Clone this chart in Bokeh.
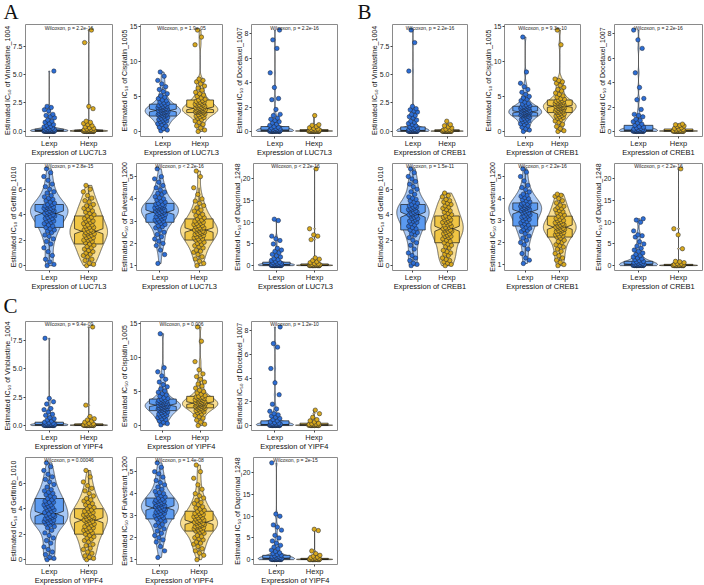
import numpy as np
from bokeh.core.properties import value
from bokeh.embed import file_html
from bokeh.layouts import column, row
from bokeh.models import FixedTicker, Label, Range1d, Spacer
from bokeh.plotting import figure
from bokeh.resources import INLINE

# ---------------------------------------------------------------- labels
groups = ["Lexp", "Hexp"]
genes = ["LUC7L3", "CREB1", "YIPF4"]
drugs = ["Vinblastine_1004", "Cisplatin_1005", "Docetaxel_1007",
         "Gefitinib_1010", "Fulvestrant_1200", "Daporinad_1248"]

vin_ticks = [0, 2.5, 5, 7.5]
vin_tick_labels = ["0.0", "2.5", "5.0", "7.5"]
cis_ticks = [0, 5, 10, 15]
cis_tick_labels = ["0", "5", "10", "15"]
doc_ticks = [0, 2, 4, 6, 8]
doc_tick_labels = ["0", "2", "4", "6", "8"]
gef_ticks = [0, 2, 4, 6]
gef_tick_labels = ["0", "2", "4", "6"]
ful_ticks = [1, 2, 3, 4, 5]
ful_tick_labels = ["1", "2", "3", "4", "5"]
dap_ticks = [0, 5, 10, 15, 20]
dap_tick_labels = ["0", "5", "10", "15", "20"]

p_luc7l3 = ["Wilcoxon, p = 2.2e-16", "Wilcoxon, p = 1.9e-05", "Wilcoxon, p = 2.2e-16",
            "Wilcoxon, p = 2.8e-15", "Wilcoxon, p < 2.2e-16", "Wilcoxon, p < 2.2e-16"]
p_creb1 = ["Wilcoxon, p = 2.2e-16", "Wilcoxon, p = 9.3e-10", "Wilcoxon, p = 2.2e-16",
           "Wilcoxon, p = 1.5e-11", "Wilcoxon, p < 2.2e-16", "Wilcoxon, p < 2.2e-16"]
p_yipf4 = ["Wilcoxon, p = 9.4e-09", "Wilcoxon, p = 0.006", "Wilcoxon, p = 1.2e-10",
           "Wilcoxon, p = 0.00046", "Wilcoxon, p = 1.4e-08", "Wilcoxon, p = 2e-15"]

# ---------------------------------------------------------------- LUC7L3 split: estimated IC50 per cell line
luc_vin_l = [0.0, 0.0, 0.01, 0.01, 0.01, 0.02, 0.02, 0.02, 0.03, 0.03, 0.03, 0.03, 0.04, 0.04, 0.04, 0.05,
             0.05, 0.05, 0.05, 0.06, 0.06, 0.06, 0.07, 0.07, 0.08, 0.08, 0.09, 0.09, 0.1, 0.11, 0.12, 0.13,
             0.14, 0.15, 0.17, 0.19, 0.22, 0.26, 0.3, 0.35, 0.4, 0.45, 0.55, 0.6, 0.7, 0.8, 0.9, 1.0,
             1.2, 1.3, 1.4, 1.5, 1.8, 1.9, 2.1, 2.2, 5.3]
luc_vin_h = [0.0, 0.0, 0.0, 0.01, 0.01, 0.01, 0.01, 0.02, 0.02, 0.02, 0.02, 0.03, 0.03, 0.03, 0.03, 0.04,
             0.04, 0.04, 0.05, 0.05, 0.05, 0.06, 0.06, 0.07, 0.07, 0.08, 0.08, 0.09, 0.1, 0.11, 0.12, 0.14,
             0.16, 0.18, 0.22, 0.28, 0.33, 0.4, 0.5, 0.6, 0.7, 0.8, 0.9, 2.0, 2.2, 7.8, 8.9]
luc_cis_l = [0.1, 0.2, 0.4, 0.6, 0.8, 1.0, 1.1, 1.3, 1.4, 1.5, 1.6, 1.7, 1.8, 1.9, 2.0, 2.1,
             2.2, 2.3, 2.3, 2.4, 2.4, 2.5, 2.5, 2.6, 2.6, 2.7, 2.7, 2.8, 2.8, 2.9, 2.9, 3.0,
             3.0, 3.1, 3.1, 3.2, 3.2, 3.3, 3.3, 3.4, 3.4, 3.5, 3.5, 3.6, 3.6, 3.7, 3.8, 3.9,
             4.0, 4.1, 4.2, 4.4, 4.5, 4.7, 4.9, 5.1, 5.4, 5.7, 6.0, 6.4, 6.8, 7.3, 7.9, 8.5]
luc_cis_h = [0.0, 0.2, 0.5, 0.8, 1.0, 1.3, 1.5, 1.7, 1.9, 2.0, 2.1, 2.2, 2.3, 2.4, 2.5, 2.6,
             2.7, 2.7, 2.8, 2.8, 2.9, 2.9, 2.9, 3.0, 3.0, 3.0, 3.1, 3.1, 3.2, 3.2, 3.3, 3.3,
             3.4, 3.4, 3.5, 3.6, 3.6, 3.7, 3.8, 3.8, 3.9, 4.0, 4.1, 4.2, 4.2, 4.3, 4.4, 4.5,
             4.6, 4.8, 5.0, 5.2, 5.4, 5.6, 5.9, 6.2, 6.5, 6.8, 7.1, 7.3, 7.5, 12.4, 13.5, 14.5]
luc_doc_l = [0.0, 0.0, 0.01, 0.01, 0.01, 0.02, 0.02, 0.02, 0.03, 0.03, 0.03, 0.04, 0.04, 0.04, 0.05, 0.05,
             0.05, 0.06, 0.06, 0.06, 0.07, 0.07, 0.08, 0.08, 0.09, 0.09, 0.1, 0.1, 0.11, 0.12, 0.13, 0.14,
             0.15, 0.17, 0.19, 0.22, 0.25, 0.3, 0.35, 0.4, 0.5, 0.6, 0.7, 0.8, 0.9, 1.0, 1.1, 1.3,
             1.4, 1.8, 2.6, 2.7, 3.6, 4.8, 6.8, 7.5, 8.3]
luc_doc_h = [0.0, 0.0, 0.0, 0.01, 0.01, 0.01, 0.02, 0.02, 0.02, 0.02, 0.03, 0.03, 0.03, 0.04, 0.04, 0.04,
             0.05, 0.05, 0.05, 0.06, 0.06, 0.07, 0.07, 0.08, 0.09, 0.1, 0.11, 0.12, 0.14, 0.16, 0.2, 0.25,
             0.3, 0.4, 0.5, 0.55, 1.3]
luc_gef_l = [0.0, 0.1, 0.3, 0.5, 0.8, 1.1, 1.4, 1.7, 1.9, 2.1, 2.3, 2.4, 2.6, 2.7, 2.8, 2.9,
             3.0, 3.1, 3.2, 3.3, 3.4, 3.5, 3.5, 3.6, 3.7, 3.7, 3.8, 3.9, 3.9, 4.0, 4.0, 4.1,
             4.1, 4.2, 4.2, 4.3, 4.3, 4.4, 4.4, 4.5, 4.5, 4.5, 4.6, 4.6, 4.7, 4.7, 4.8, 4.8,
             4.9, 5.0, 5.1, 5.2, 5.3, 5.4, 5.5, 5.7, 5.8, 6.0, 6.2, 6.4, 6.7, 7.0, 7.3, 7.6]
luc_gef_h = [0.0, 0.1, 0.2, 0.4, 0.5, 0.7, 0.8, 0.9, 1.0, 1.1, 1.2, 1.3, 1.4, 1.5, 1.6, 1.7,
             1.8, 1.9, 2.0, 2.0, 2.1, 2.2, 2.2, 2.3, 2.4, 2.4, 2.5, 2.5, 2.6, 2.6, 2.7, 2.7,
             2.8, 2.8, 2.9, 3.0, 3.0, 3.1, 3.2, 3.2, 3.3, 3.4, 3.5, 3.5, 3.6, 3.7, 3.8, 3.9,
             4.0, 4.1, 4.2, 4.3, 4.4, 4.5, 4.6, 4.7, 4.8, 5.0, 5.1, 5.3, 5.5, 5.8, 6.0, 6.3]
luc_ful_l = [1.1, 1.5, 1.7, 1.9, 2.0, 2.1, 2.2, 2.3, 2.4, 2.5, 2.6, 2.7, 2.75, 2.8, 2.85, 2.9,
             2.95, 3.0, 3.0, 3.05, 3.1, 3.1, 3.15, 3.2, 3.2, 3.25, 3.3, 3.3, 3.35, 3.35, 3.4, 3.4,
             3.45, 3.45, 3.5, 3.5, 3.55, 3.55, 3.6, 3.6, 3.6, 3.65, 3.65, 3.7, 3.7, 3.75, 3.75, 3.8,
             3.85, 3.9, 3.95, 4.0, 4.05, 4.1, 4.2, 4.25, 4.3, 4.4, 4.5, 4.6, 4.75, 4.9, 5.0, 5.35]
luc_ful_h = [1.0, 1.1, 1.2, 1.3, 1.4, 1.5, 1.6, 1.65, 1.7, 1.8, 1.85, 1.9, 1.95, 2.0, 2.05, 2.1,
             2.15, 2.2, 2.2, 2.25, 2.3, 2.3, 2.35, 2.4, 2.4, 2.45, 2.45, 2.5, 2.5, 2.55, 2.55, 2.6,
             2.6, 2.65, 2.65, 2.7, 2.7, 2.75, 2.8, 2.8, 2.85, 2.9, 2.9, 2.95, 3.0, 3.0, 3.05, 3.1,
             3.15, 3.2, 3.25, 3.3, 3.4, 3.45, 3.5, 3.6, 3.7, 3.8, 3.9, 4.0, 4.2, 4.5, 5.0, 5.25]
luc_dap_l = [0.0, 0.01, 0.02, 0.03, 0.04, 0.05, 0.05, 0.06, 0.07, 0.08, 0.08, 0.09, 0.1, 0.1, 0.11, 0.12,
             0.12, 0.13, 0.14, 0.15, 0.15, 0.16, 0.17, 0.18, 0.19, 0.2, 0.21, 0.22, 0.23, 0.24, 0.25, 0.27,
             0.3, 0.35, 0.4, 0.5, 0.6, 0.7, 0.8, 1.0, 1.2, 1.4, 1.6, 2.0, 2.3, 2.6, 3.0, 3.3,
             3.6, 4.0, 5.0, 5.8, 6.2, 6.8, 10.4, 10.7]
luc_dap_h = [0.0, 0.0, 0.01, 0.01, 0.02, 0.02, 0.03, 0.03, 0.04, 0.04, 0.05, 0.05, 0.06, 0.06, 0.07, 0.08,
             0.08, 0.09, 0.1, 0.1, 0.11, 0.12, 0.13, 0.14, 0.15, 0.17, 0.19, 0.22, 0.25, 0.3, 0.4, 0.5,
             0.7, 0.9, 1.2, 1.5, 1.8, 6.0, 6.8, 7.1, 8.5, 22.3]

# ---------------------------------------------------------------- CREB1 split
creb_vin_l = [0.0, 0.0, 0.01, 0.01, 0.01, 0.02, 0.02, 0.02, 0.03, 0.03, 0.03, 0.04, 0.04, 0.04, 0.05, 0.05,
              0.05, 0.06, 0.06, 0.06, 0.07, 0.07, 0.08, 0.08, 0.09, 0.09, 0.1, 0.11, 0.12, 0.13, 0.14, 0.16,
              0.18, 0.2, 0.25, 0.3, 0.35, 0.4, 0.5, 0.6, 0.7, 0.8, 0.9, 1.0, 1.2, 1.3, 1.4, 1.5,
              1.7, 1.8, 1.9, 2.0, 2.2, 5.3, 7.8, 8.9]
creb_vin_h = [0.0, 0.0, 0.0, 0.01, 0.01, 0.01, 0.01, 0.02, 0.02, 0.02, 0.03, 0.03, 0.03, 0.04, 0.04, 0.05,
              0.05, 0.06, 0.06, 0.07, 0.08, 0.09, 0.1, 0.12, 0.14, 0.17, 0.2, 0.3, 0.4, 0.5, 0.6, 0.9]
creb_cis_l = [0.0, 0.2, 0.4, 0.6, 0.8, 1.0, 1.1, 1.3, 1.4, 1.5, 1.6, 1.7, 1.8, 1.9, 2.0, 2.1,
              2.2, 2.2, 2.3, 2.3, 2.4, 2.4, 2.5, 2.5, 2.5, 2.6, 2.6, 2.7, 2.7, 2.7, 2.8, 2.8,
              2.9, 2.9, 3.0, 3.0, 3.1, 3.1, 3.2, 3.2, 3.3, 3.3, 3.4, 3.4, 3.5, 3.5, 3.6, 3.6,
              3.7, 3.8, 3.9, 4.0, 4.2, 4.4, 4.6, 4.8, 5.0, 5.3, 5.6, 6.0, 6.4, 6.9, 8.5, 13.5]
creb_cis_h = [0.0, 0.1, 0.4, 0.7, 1.0, 1.3, 1.5, 1.7, 1.9, 2.0, 2.1, 2.2, 2.3, 2.4, 2.5, 2.6,
              2.7, 2.8, 2.8, 2.9, 3.0, 3.0, 3.1, 3.2, 3.2, 3.3, 3.3, 3.4, 3.4, 3.5, 3.5, 3.6,
              3.6, 3.7, 3.7, 3.8, 3.8, 3.9, 3.9, 4.0, 4.0, 4.1, 4.1, 4.2, 4.3, 4.3, 4.4, 4.5,
              4.6, 4.7, 4.9, 5.1, 5.3, 5.5, 5.8, 6.0, 6.3, 6.6, 6.9, 7.1, 7.3, 7.5, 12.4, 14.5]
creb_doc_l = [0.0, 0.0, 0.01, 0.01, 0.01, 0.02, 0.02, 0.02, 0.03, 0.03, 0.03, 0.04, 0.04, 0.04, 0.05, 0.05,
              0.05, 0.06, 0.06, 0.07, 0.07, 0.08, 0.08, 0.09, 0.09, 0.1, 0.1, 0.11, 0.12, 0.13, 0.15, 0.17,
              0.2, 0.25, 0.3, 0.35, 0.4, 0.5, 0.6, 0.7, 0.8, 0.9, 1.0, 1.2, 1.3, 1.4, 1.8, 2.6,
              2.7, 3.6, 4.8, 6.8, 7.5, 8.3]
creb_doc_h = [0.0, 0.0, 0.0, 0.01, 0.01, 0.01, 0.02, 0.02, 0.02, 0.03, 0.03, 0.03, 0.04, 0.04, 0.05, 0.05,
              0.06, 0.06, 0.07, 0.08, 0.1, 0.12, 0.15, 0.2, 0.25, 0.3, 0.4, 0.45, 0.5, 0.55, 0.6]
creb_gef_l = [0.0, 0.1, 0.2, 0.4, 0.6, 0.8, 1.0, 1.3, 1.6, 1.8, 2.0, 2.2, 2.4, 2.5, 2.6, 2.7,
              2.8, 2.9, 3.0, 3.1, 3.2, 3.3, 3.4, 3.5, 3.5, 3.6, 3.7, 3.7, 3.8, 3.9, 3.9, 4.0,
              4.0, 4.1, 4.1, 4.2, 4.2, 4.3, 4.3, 4.4, 4.4, 4.5, 4.5, 4.6, 4.6, 4.7, 4.7, 4.8,
              4.9, 5.0, 5.1, 5.2, 5.3, 5.4, 5.6, 5.8, 6.0, 6.2, 6.4, 6.6, 6.8, 7.0, 7.3, 7.6]
creb_gef_h = [0.0, 0.1, 0.2, 0.3, 0.4, 0.5, 0.6, 0.8, 0.9, 1.0, 1.1, 1.2, 1.4, 1.5, 1.6, 1.7,
              1.8, 1.9, 2.0, 2.1, 2.2, 2.3, 2.3, 2.4, 2.5, 2.5, 2.6, 2.7, 2.7, 2.8, 2.8, 2.9,
              2.9, 3.0, 3.0, 3.1, 3.2, 3.2, 3.3, 3.4, 3.4, 3.5, 3.6, 3.6, 3.7, 3.8, 3.8, 3.9,
              4.0, 4.1, 4.2, 4.3, 4.4, 4.5, 4.6, 4.7, 4.8, 4.9, 5.0, 5.1, 5.2, 5.4, 5.5, 5.7]
creb_ful_l = [1.05, 1.2, 1.3, 1.5, 1.7, 1.9, 2.0, 2.1, 2.2, 2.3, 2.4, 2.5, 2.55, 2.6, 2.65, 2.7,
              2.75, 2.8, 2.85, 2.9, 2.95, 3.0, 3.05, 3.1, 3.15, 3.2, 3.2, 3.25, 3.3, 3.35, 3.35, 3.4,
              3.45, 3.45, 3.5, 3.5, 3.55, 3.55, 3.6, 3.6, 3.65, 3.65, 3.7, 3.7, 3.7, 3.75, 3.75, 3.8,
              3.85, 3.9, 3.95, 4.0, 4.05, 4.1, 4.15, 4.2, 4.3, 4.4, 4.5, 4.6, 4.8, 5.0, 5.2, 5.35]
creb_ful_h = [0.95, 1.0, 1.1, 1.2, 1.3, 1.4, 1.5, 1.6, 1.7, 1.8, 1.85, 1.9, 2.0, 2.05, 2.1, 2.2,
              2.25, 2.3, 2.3, 2.35, 2.4, 2.4, 2.45, 2.5, 2.5, 2.55, 2.55, 2.6, 2.6, 2.65, 2.65, 2.7,
              2.7, 2.75, 2.75, 2.8, 2.8, 2.85, 2.85, 2.9, 2.9, 2.95, 3.0, 3.0, 3.05, 3.1, 3.15, 3.2,
              3.25, 3.3, 3.35, 3.4, 3.45, 3.5, 3.55, 3.6, 3.65, 3.7, 3.8, 3.9, 4.0, 4.1, 4.15, 4.2]
creb_dap_l = [0.0, 0.01, 0.02, 0.03, 0.04, 0.05, 0.06, 0.07, 0.08, 0.09, 0.1, 0.1, 0.11, 0.12, 0.13, 0.14,
              0.15, 0.16, 0.17, 0.18, 0.19, 0.2, 0.21, 0.22, 0.24, 0.26, 0.28, 0.3, 0.35, 0.4, 0.5, 0.6,
              0.7, 0.8, 0.9, 1.0, 1.2, 1.4, 1.6, 1.8, 2.0, 2.3, 2.6, 2.9, 3.3, 3.6, 4.0, 4.5,
              5.0, 5.5, 6.6, 6.9, 7.1, 8.0, 10.0, 10.5, 10.8]
creb_dap_h = [0.0, 0.0, 0.01, 0.01, 0.02, 0.02, 0.03, 0.03, 0.04, 0.04, 0.05, 0.05, 0.06, 0.07, 0.08, 0.08,
              0.09, 0.1, 0.11, 0.12, 0.13, 0.15, 0.17, 0.2, 0.3, 0.4, 0.5, 0.7, 0.9, 1.0, 3.9, 7.1,
              8.5, 22.3]

# ---------------------------------------------------------------- YIPF4 split
yipf_vin_l = [0.0, 0.0, 0.01, 0.01, 0.01, 0.02, 0.02, 0.02, 0.03, 0.03, 0.03, 0.04, 0.04, 0.04, 0.05, 0.05,
              0.05, 0.06, 0.06, 0.07, 0.07, 0.08, 0.08, 0.09, 0.1, 0.11, 0.12, 0.13, 0.15, 0.17, 0.2, 0.25,
              0.3, 0.4, 0.5, 0.6, 0.7, 0.9, 1.0, 1.2, 1.4, 1.5, 1.9, 2.1, 2.4, 7.7]
yipf_vin_h = [0.0, 0.0, 0.0, 0.01, 0.01, 0.01, 0.02, 0.02, 0.02, 0.03, 0.03, 0.03, 0.04, 0.04, 0.05, 0.05,
              0.06, 0.06, 0.07, 0.08, 0.1, 0.12, 0.15, 0.2, 0.3, 0.4, 0.5, 0.6, 0.8, 1.8, 8.7]
yipf_cis_l = [0.1, 0.3, 0.5, 0.7, 0.9, 1.0, 1.2, 1.3, 1.4, 1.5, 1.6, 1.7, 1.8, 1.9, 2.0, 2.1,
              2.2, 2.3, 2.3, 2.4, 2.4, 2.5, 2.5, 2.6, 2.6, 2.7, 2.7, 2.8, 2.8, 2.9, 2.9, 3.0,
              3.0, 3.1, 3.1, 3.2, 3.2, 3.3, 3.3, 3.4, 3.4, 3.5, 3.5, 3.6, 3.7, 3.7, 3.8, 3.9,
              4.0, 4.1, 4.3, 4.5, 4.7, 4.9, 5.1, 5.4, 5.7, 6.0, 6.4, 6.8, 7.3, 7.9, 8.5, 13.5]
yipf_cis_h = [0.0, 0.2, 0.5, 0.8, 1.1, 1.3, 1.5, 1.7, 1.9, 2.0, 2.1, 2.2, 2.3, 2.4, 2.5, 2.5,
              2.6, 2.7, 2.7, 2.8, 2.8, 2.9, 2.9, 3.0, 3.0, 3.1, 3.1, 3.2, 3.2, 3.2, 3.3, 3.3,
              3.4, 3.4, 3.5, 3.5, 3.6, 3.7, 3.7, 3.8, 3.8, 3.9, 4.0, 4.0, 4.1, 4.2, 4.2, 4.3,
              4.4, 4.6, 4.8, 5.0, 5.2, 5.5, 5.8, 6.1, 6.4, 6.8, 7.2, 7.6, 8.2, 9.4, 12.4, 14.5]
yipf_doc_l = [0.0, 0.0, 0.01, 0.01, 0.01, 0.02, 0.02, 0.02, 0.03, 0.03, 0.03, 0.04, 0.04, 0.04, 0.05, 0.05,
              0.05, 0.06, 0.06, 0.07, 0.07, 0.08, 0.08, 0.09, 0.1, 0.1, 0.11, 0.12, 0.14, 0.16, 0.2, 0.25,
              0.3, 0.4, 0.5, 0.6, 0.7, 0.8, 0.9, 1.0, 1.2, 1.4, 1.8, 2.6, 3.6, 4.8, 6.6, 6.9, 8.3]
yipf_doc_h = [0.0, 0.0, 0.0, 0.01, 0.01, 0.01, 0.02, 0.02, 0.02, 0.03, 0.03, 0.03, 0.04, 0.04, 0.05, 0.05,
              0.06, 0.07, 0.08, 0.1, 0.12, 0.15, 0.2, 0.3, 0.4, 0.5, 0.7, 1.0, 1.3]
yipf_gef_l = [0.0, 0.1, 0.2, 0.4, 0.6, 0.8, 1.0, 1.3, 1.5, 1.7, 1.9, 2.1, 2.3, 2.5, 2.6, 2.7,
              2.8, 2.9, 2.9, 3.0, 3.0, 3.1, 3.1, 3.2, 3.2, 3.3, 3.3, 3.4, 3.4, 3.5, 3.5, 3.6,
              3.7, 3.8, 3.9, 3.9, 4.0, 4.1, 4.1, 4.2, 4.3, 4.3, 4.4, 4.5, 4.5, 4.6, 4.7, 4.8,
              4.9, 5.0, 5.1, 5.2, 5.3, 5.4, 5.5, 5.7, 5.9, 6.1, 6.3, 6.5, 6.7, 7.0, 7.3, 7.6]
yipf_gef_h = [0.0, 0.1, 0.2, 0.3, 0.5, 0.6, 0.8, 0.9, 1.1, 1.2, 1.4, 1.5, 1.6, 1.7, 1.8, 1.9,
              2.0, 2.1, 2.2, 2.3, 2.3, 2.4, 2.5, 2.5, 2.6, 2.7, 2.8, 2.8, 2.9, 3.0, 3.0, 3.1,
              3.1, 3.2, 3.2, 3.3, 3.3, 3.4, 3.4, 3.5, 3.5, 3.6, 3.6, 3.7, 3.8, 3.8, 3.9, 4.0,
              4.1, 4.2, 4.3, 4.4, 4.5, 4.6, 4.7, 4.8, 5.0, 5.2, 5.4, 5.6, 5.8, 6.1, 6.5, 7.0]
yipf_ful_l = [1.1, 1.4, 1.6, 1.8, 1.9, 2.0, 2.1, 2.2, 2.3, 2.4, 2.5, 2.55, 2.6, 2.7, 2.75, 2.8,
              2.85, 2.9, 2.95, 3.0, 3.0, 3.05, 3.1, 3.1, 3.15, 3.2, 3.2, 3.25, 3.25, 3.3, 3.3, 3.35,
              3.4, 3.4, 3.45, 3.45, 3.5, 3.5, 3.55, 3.55, 3.6, 3.6, 3.65, 3.65, 3.7, 3.7, 3.75, 3.8,
              3.85, 3.9, 3.95, 4.0, 4.05, 4.1, 4.2, 4.3, 4.4, 4.5, 4.6, 4.75, 4.9, 5.0, 5.2, 5.4]
yipf_ful_h = [1.0, 1.2, 1.3, 1.4, 1.5, 1.6, 1.7, 1.75, 1.8, 1.9, 1.95, 2.0, 2.05, 2.1, 2.2, 2.25,
              2.3, 2.3, 2.35, 2.4, 2.4, 2.45, 2.45, 2.5, 2.5, 2.55, 2.55, 2.6, 2.6, 2.65, 2.65, 2.7,
              2.7, 2.75, 2.75, 2.8, 2.8, 2.85, 2.9, 2.9, 2.95, 3.0, 3.0, 3.05, 3.1, 3.1, 3.15, 3.2,
              3.25, 3.3, 3.35, 3.4, 3.5, 3.55, 3.6, 3.7, 3.8, 3.9, 4.0, 4.2, 4.4, 4.7, 5.0, 5.3]
yipf_dap_l = [0.0, 0.01, 0.02, 0.03, 0.04, 0.05, 0.06, 0.07, 0.08, 0.09, 0.1, 0.1, 0.11, 0.12, 0.13, 0.14,
              0.15, 0.16, 0.17, 0.18, 0.19, 0.2, 0.21, 0.22, 0.24, 0.26, 0.28, 0.3, 0.35, 0.4, 0.5, 0.6,
              0.7, 0.8, 0.9, 1.0, 1.2, 1.4, 1.6, 1.9, 2.2, 2.5, 2.9, 3.3, 3.8, 4.3, 5.0, 5.6,
              6.8, 7.5, 8.0, 10.0, 10.5, 22.3]
yipf_dap_h = [0.0, 0.0, 0.01, 0.01, 0.02, 0.02, 0.03, 0.03, 0.04, 0.04, 0.05, 0.05, 0.06, 0.07, 0.08, 0.09,
              0.1, 0.11, 0.13, 0.15, 0.17, 0.2, 0.3, 0.4, 0.5, 0.6, 0.8, 1.0, 1.4, 2.0, 6.7, 7.0]

# ---------------------------------------------------------------- box summaries [q1, notch low, median, notch high, q3]
luc_box = [([0.03, 0.05, 0.07, 0.09, 0.2], [0.02, 0.04, 0.05, 0.06, 0.12]),
           ([2.2, 2.8, 3.0, 3.2, 3.9], [2.7, 3.1, 3.3, 3.5, 4.5]),
           ([0.03, 0.07, 0.1, 0.13, 0.4], [0.02, 0.04, 0.06, 0.08, 0.15]),
           ([3.0, 3.9, 4.1, 4.3, 4.8], [1.7, 2.5, 2.7, 2.9, 3.9]),
           ([2.95, 3.3, 3.4, 3.5, 3.8], [2.15, 2.5, 2.6, 2.7, 3.1]),
           ([0.1, 0.17, 0.25, 0.33, 0.8], [0.05, 0.09, 0.12, 0.15, 0.4])]
creb_box = [([0.03, 0.06, 0.08, 0.1, 0.4], [0.02, 0.04, 0.05, 0.06, 0.15]),
            ([2.2, 2.65, 2.8, 2.95, 3.6], [2.7, 3.45, 3.6, 3.75, 4.5]),
            ([0.03, 0.07, 0.1, 0.13, 0.5], [0.02, 0.04, 0.06, 0.08, 0.2]),
            ([2.8, 3.8, 4.0, 4.2, 4.8], [1.8, 2.7, 2.9, 3.1, 3.9]),
            ([2.75, 3.3, 3.4, 3.5, 3.8], [2.25, 2.6, 2.7, 2.8, 3.2]),
            ([0.1, 0.2, 0.3, 0.4, 1.0], [0.04, 0.08, 0.1, 0.12, 0.3])]
yipf_box = [([0.03, 0.05, 0.07, 0.09, 0.3], [0.02, 0.04, 0.05, 0.06, 0.15]),
            ([2.2, 2.8, 3.0, 3.2, 3.9], [2.6, 3.1, 3.3, 3.5, 4.3]),
            ([0.03, 0.06, 0.08, 0.1, 0.4], [0.02, 0.04, 0.06, 0.08, 0.2]),
            ([2.8, 3.4, 3.6, 3.8, 4.8], [2.0, 2.9, 3.1, 3.3, 4.0]),
            ([2.85, 3.25, 3.35, 3.45, 3.8], [2.3, 2.6, 2.7, 2.8, 3.2]),
            ([0.1, 0.2, 0.3, 0.4, 1.0], [0.04, 0.08, 0.1, 0.12, 0.3])]

# ---------------------------------------------------------------- styling
FONT = "Liberation Sans"
VIOLIN_FILL = ["#a7c8f6", "#f8de93"]
BOX_FILL = ["#5b9af0", "#f0c544"]
POINT_FILL = ["#2d6ed5", "#d8a81d"]
VIOLIN_HALF = 0.475
BOX_WIDTH = 0.72
JITTER = 0.14

TICKS = [(vin_ticks, vin_tick_labels), (cis_ticks, cis_tick_labels), (doc_ticks, doc_tick_labels),
         (gef_ticks, gef_tick_labels), (ful_ticks, ful_tick_labels), (dap_ticks, dap_tick_labels)]


def violin_outline(vals, center):
    """Gaussian-kernel density (bw.nrd0 rule), trimmed to the data range."""
    v = np.sort(np.asarray(vals, dtype=float))
    n = v.size
    sd = v.std(ddof=1)
    q25, q75 = np.percentile(v, [25, 75])
    spread = min(sd, (q75 - q25) / 1.34) if q75 > q25 else sd
    bw = 0.9 * spread * n ** -0.2
    ys = np.linspace(v[0], v[-1], 500)
    dens = np.exp(-0.5 * ((ys[:, None] - v[None, :]) / bw) ** 2).sum(axis=1)
    hw = VIOLIN_HALF * dens / dens.max()
    xs = np.concatenate([center - hw, (center + hw)[::-1]])
    yy = np.concatenate([ys, ys[::-1]])
    return xs, yy


def notched_box(stats, center):
    q1, nlo, med, nhi, q3 = stats
    l, r = center - BOX_WIDTH / 2, center + BOX_WIDTH / 2
    lm, rm = center - BOX_WIDTH / 4, center + BOX_WIDTH / 4
    xs = [l, l, lm, l, l, r, r, rm, r, r]
    ys = [q1, nlo, med, nhi, q3, q3, nhi, med, nlo, q1]
    return xs, ys


def whisker_ends(vals, stats):
    v = np.asarray(vals, dtype=float)
    q1, q3 = stats[0], stats[4]
    iqr = q3 - q1
    lower = v[v >= q1 - 1.5 * iqr].min()
    upper = v[v <= q3 + 1.5 * iqr].max()
    return lower, upper


def jitter_offsets(n):
    k = np.arange(n)
    return ((k * 0.6180339887 + 0.31) % 1.0 - 0.5) * 2 * JITTER


def subplot(gene, drug_idx, lexp, hexp, boxes, p_label, width, height, bl, br, bt, bb):
    allv = np.asarray(lexp + hexp, dtype=float)
    lo, hi = allv.min(), allv.max()
    span = hi - lo
    p = figure(width=width, height=height, output_backend="svg", toolbar_location=None,
               x_range=Range1d(0.4, 2.6), y_range=Range1d(lo - 0.05 * span, hi + 0.055 * span),
               min_border_left=bl, min_border_right=br, min_border_top=bt, min_border_bottom=bb,
               background_fill_color="white", border_fill_color="white")
    p.grid.visible = False
    p.outline_line_color = "#8a8a8a"
    p.outline_line_width = 1

    for gi, (vals, stats) in enumerate(zip([lexp, hexp], boxes)):
        c = gi + 1
        vx, vy = violin_outline(vals, c)
        p.patch(vx, vy, fill_color=VIOLIN_FILL[gi], line_color="#1a1a1a", line_width=0.6)
        lower, upper = whisker_ends(vals, stats)
        p.segment(x0=[c, c], y0=[stats[4], stats[0]], x1=[c, c], y1=[upper, lower],
                  line_color="#1a1a1a", line_width=0.8)
        bx, by = notched_box(stats, c)
        p.patch(bx, by, fill_color=BOX_FILL[gi], line_color="#1a1a1a", line_width=0.7)
        p.segment(x0=[c - BOX_WIDTH / 4], y0=[stats[2]], x1=[c + BOX_WIDTH / 4], y1=[stats[2]],
                  line_color="#1a1a1a", line_width=1.4)
        v = np.asarray(vals, dtype=float)
        p.scatter(c + jitter_offsets(v.size), v, size=4.4, fill_color=POINT_FILL[gi],
                  line_color="#1c2230", line_width=0.5)

    p.text(x=[1.5], y=[hi + 0.025 * span], text=[p_label], text_font=value(FONT),
           text_font_size="5px", text_align="center", text_baseline="middle", text_color="#222222")

    ticks, tick_labels = TICKS[drug_idx]
    p.yaxis.ticker = FixedTicker(ticks=ticks)
    p.yaxis.major_label_overrides = {t: s for t, s in zip(ticks, tick_labels)}
    p.xaxis.ticker = FixedTicker(ticks=[1, 2])
    p.xaxis.major_label_overrides = {1: groups[0], 2: groups[1]}
    p.xaxis.axis_label = f"Expression of {gene}"
    p.yaxis.axis_label = f"Estimated IC\u2085\u2080 of {drugs[drug_idx]}"
    for ax in (p.xaxis[0], p.yaxis[0]):
        ax.axis_line_color = None
        ax.major_tick_line_color = "#444444"
        ax.major_tick_in = 0
        ax.major_tick_out = 2
        ax.minor_tick_line_color = None
        ax.major_label_text_font = FONT
        ax.major_label_text_color = "#222222"
        ax.axis_label_text_font = FONT
        ax.axis_label_text_font_style = "normal"
        ax.axis_label_text_color = "#111111"
    p.xaxis.major_label_standoff = 0
    p.xaxis.axis_label_standoff = -3
    p.yaxis.major_label_standoff = 1
    p.yaxis.axis_label_standoff = -1
    p.xaxis.major_label_text_font_size = "7.5px"
    p.xaxis.axis_label_text_font_size = "7.5px"
    p.yaxis.major_label_text_font_size = "7px"
    p.yaxis.axis_label_text_font_size = "7px"
    return p


def letter_strip(letter, width, height, x, center_from_top):
    p = figure(width=width, height=height, output_backend="svg", toolbar_location=None,
               x_range=Range1d(0, width), y_range=Range1d(0, height), min_border=0,
               x_axis_type=None, y_axis_type=None, background_fill_color="white",
               border_fill_color="white")
    p.grid.visible = False
    p.outline_line_color = None
    p.add_layout(Label(x=x, y=height - center_from_top, text=letter, text_font="Liberation Serif",
                       text_font_size="21px", text_color="#111111", text_baseline="middle"))
    return p


def panel(letter, gene, data, boxes, p_labels, widths, lefts, rights, lead, strip_h, top_pad,
          letter_x, letter_center):
    row_specs = [(0, 136, top_pad, 21), (3, 134, 4, 20)]
    rows = []
    for start, h, bt, bb in row_specs:
        figs = []
        for k in range(3):
            d = start + k
            figs.append(subplot(gene, d, data[d][0], data[d][1], boxes[d], p_labels[d],
                                widths[k], h, lefts[k], rights[k], bt, bb))
        if lead:
            figs = [Spacer(width=lead, height=h)] + figs
        rows.append(row(*figs))
    total_w = lead + sum(widths)
    strip = letter_strip(letter, total_w, strip_h, letter_x, letter_center)
    return column(strip, *rows)


luc_data = [(luc_vin_l, luc_vin_h), (luc_cis_l, luc_cis_h), (luc_doc_l, luc_doc_h),
            (luc_gef_l, luc_gef_h), (luc_ful_l, luc_ful_h), (luc_dap_l, luc_dap_h)]
creb_data = [(creb_vin_l, creb_vin_h), (creb_cis_l, creb_cis_h), (creb_doc_l, creb_doc_h),
             (creb_gef_l, creb_gef_h), (creb_ful_l, creb_ful_h), (creb_dap_l, creb_dap_h)]
yipf_data = [(yipf_vin_l, yipf_vin_h), (yipf_cis_l, yipf_cis_h), (yipf_doc_l, yipf_doc_h),
             (yipf_gef_l, yipf_gef_h), (yipf_ful_l, yipf_ful_h), (yipf_dap_l, yipf_dap_h)]

panel_a = panel("A", genes[0], luc_data, luc_box, p_luc7l3,
                [117, 113, 115], [25, 19, 21], [5, 8, 8], 0, 23, 1, 3, 11.8)
panel_b = panel("B", genes[1], creb_data, creb_box, p_creb1,
                [112, 114, 116], [30, 30, 26], [7, 8, 2], 17, 23, 1, 12, 11.8)
panel_c = panel("C", genes[2], yipf_data, yipf_box, p_yipf4,
                [117, 113, 115], [25, 19, 21], [5, 8, 8], 0, 24, 4, 3, 12.5)

layout = column(row(panel_a, panel_b), panel_c)

with open("out.html", "w") as fh:
    fh.write(file_html(layout, INLINE))
